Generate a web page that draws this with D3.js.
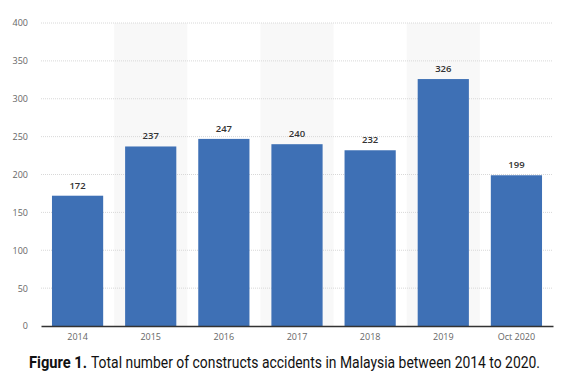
<!DOCTYPE html>
<html>
<head>
<meta charset="utf-8">
<script src="https://cdn.jsdelivr.net/npm/d3@7"></script>
<style>
  body { margin: 0; background: #fff; }
  svg { display: block; }
</style>
</head>
<body>
<div id="chart"></div>
<script>
const categories = ["2014", "2015", "2016", "2017", "2018", "2019", "Oct 2020"]
const accidents = [172, 237, 247, 240, 232, 326, 199]
const yTicks = [0, 50, 100, 150, 200, 250, 300, 350, 400]

const W = 573, H = 388
const margin = { top: 23, right: 20, bottom: 62, left: 41 }
const width = W - margin.left - margin.right
const height = H - margin.top - margin.bottom

const svg = d3.select("#chart").append("svg")
    .attr("width", W)
    .attr("height", H)

const g = svg.append("g")
    .attr("transform", `translate(${margin.left},${margin.top})`)

const x = d3.scaleBand()
    .domain(categories)
    .range([0, width])
    .paddingInner(0)
    .paddingOuter(0)

const y = d3.scaleLinear()
    .domain([0, 400])
    .range([height, 0])

// alternating background stripes
g.selectAll(".stripe")
    .data(categories.filter((c, i) => i % 2 === 1))
    .enter().append("rect")
    .attr("class", "stripe")
    .attr("x", d => x(d))
    .attr("y", 0)
    .attr("width", x.bandwidth())
    .attr("height", height)
    .style("fill", "#f8f8f8")

// gridlines
g.selectAll(".grid")
    .data(yTicks.slice(1))
    .enter().append("line")
    .attr("x1", 0)
    .attr("x2", width)
    .attr("y1", d => y(d))
    .attr("y2", d => y(d))
    .style("stroke", "#d8d8d8")
    .style("stroke-width", 1)
    .style("stroke-dasharray", "1,1")

// y axis labels
const yAxis = d3.axisLeft(y).tickValues(yTicks).tickSize(0).tickPadding(13)
g.append("g")
    .call(yAxis)
    .call(a => a.select(".domain").remove())
    .selectAll("text")
    .style("font-family", "'Open Sans', sans-serif")
    .style("font-size", "9px")
    .style("fill", "#666")

// bars
const barW = x.bandwidth() * 0.7
g.selectAll(".bar")
    .data(accidents)
    .enter().append("rect")
    .attr("class", "bar")
    .attr("x", (d, i) => x(categories[i]) + (x.bandwidth() - barW) / 2)
    .attr("y", d => y(d))
    .attr("width", barW)
    .attr("height", d => height - y(d))
    .style("fill", "#3e70b5")

// value labels
g.selectAll(".val")
    .data(accidents)
    .enter().append("text")
    .attr("x", (d, i) => x(categories[i]) + x.bandwidth() / 2)
    .attr("y", d => y(d) - 7)
    .attr("text-anchor", "middle")
    .style("font-family", "'Open Sans', sans-serif")
    .style("font-size", "9.5px")
    .style("font-weight", "600")
    .style("fill", "#333")
    .text(d => d)

// x axis
const xAxis = d3.axisBottom(x).tickSize(0).tickPadding(8)
g.append("g")
    .attr("transform", `translate(0,${height})`)
    .call(xAxis)
    .call(a => a.select(".domain").style("stroke", "#333").style("stroke-width", 1.3))
    .selectAll("text")
    .style("font-family", "'Open Sans', sans-serif")
    .style("font-size", "9px")
    .style("fill", "#666")

// caption, squeezed to match the narrow face of the original
svg.append("text")
    .attr("x", 29)
    .attr("y", 368)
    .attr("textLength", 58)
    .attr("lengthAdjust", "spacingAndGlyphs")
    .style("font-family", "Roboto, sans-serif")
    .style("font-size", "16px")
    .style("font-weight", "bold")
    .style("fill", "#111")
    .text("Figure 1.")

svg.append("text")
    .attr("x", 91)
    .attr("y", 368)
    .attr("textLength", 449)
    .attr("lengthAdjust", "spacingAndGlyphs")
    .style("font-family", "Roboto, sans-serif")
    .style("font-size", "16px")
    .style("fill", "#111")
    .text("Total number of constructs accidents in Malaysia between 2014 to 2020.")
</script>
</body>
</html>
